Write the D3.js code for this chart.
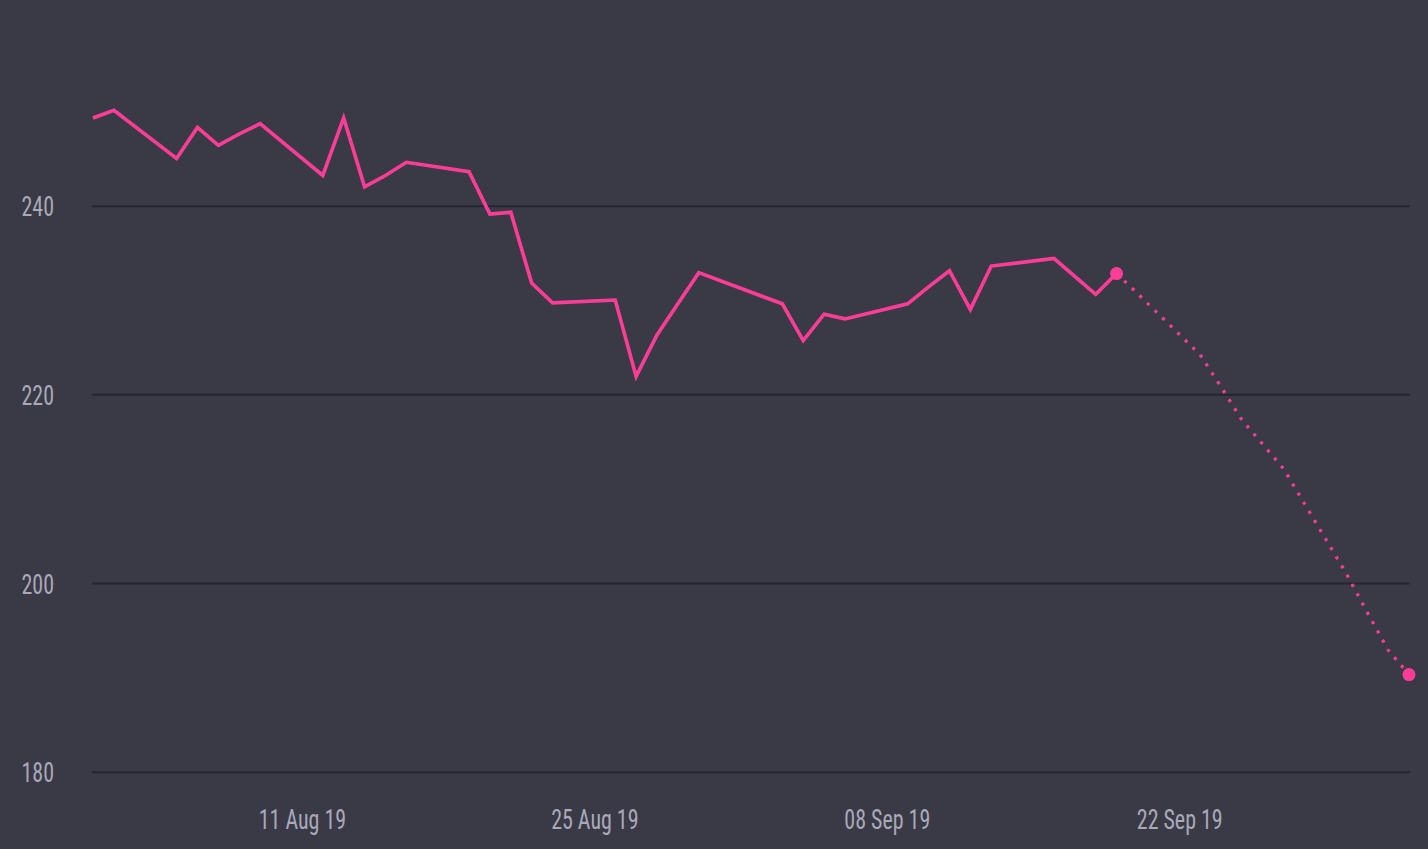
<!DOCTYPE html>
<html>
<head>
<meta charset="utf-8">
<script src="https://cdn.jsdelivr.net/npm/d3@7"></script>
<style>
  html, body { margin: 0; padding: 0; background: #3a3a47; overflow: hidden; }
  .tick-label { font-family: "Roboto Condensed", "Liberation Sans Narrow", Roboto, sans-serif; font-weight: 400; fill: #a9a9b9; font-size: 28.5px; }
</style>
</head>
<body>
<script>
// Kurswerte (Handelstage)
var dates = ["2019-08-01","2019-08-02","2019-08-05","2019-08-06","2019-08-07","2019-08-08","2019-08-09",
  "2019-08-12","2019-08-13","2019-08-14","2019-08-15","2019-08-16","2019-08-19","2019-08-20","2019-08-21",
  "2019-08-22","2019-08-23","2019-08-26","2019-08-27","2019-08-28","2019-08-29","2019-08-30","2019-09-03",
  "2019-09-04","2019-09-05","2019-09-06","2019-09-09","2019-09-10","2019-09-11","2019-09-12","2019-09-13",
  "2019-09-16","2019-09-17","2019-09-18","2019-09-19"];
var values = [249.3, 250.1, 245.0, 248.3, 246.4, 247.6, 248.7,
  243.2, 249.3, 242.0, 243.2, 244.6, 243.6, 239.1, 239.3,
  231.8, 229.7, 230.0, 221.9, 226.3, 229.6, 232.9, 229.6,
  225.7, 228.5, 228.0, 229.6, 231.4, 233.1, 229.0, 233.6,
  234.4, 232.5, 230.6, 232.8];

// Prognose (gepunktet)
var forecastDates = ["2019-09-19","2019-09-20","2019-09-23","2019-09-24","2019-09-25","2019-09-26",
  "2019-09-27","2019-09-30","2019-10-01","2019-10-02","2019-10-03"];
var forecastValues = [232.8, 230.7, 224.2, 220.8, 217.3, 214.7, 212.1, 201.0, 196.9, 192.9, 190.3];

var yTicks = [180, 200, 220, 240];
var xTicks = ["2019-08-11", "2019-08-25", "2019-09-08", "2019-09-22"];

var width = 1428, height = 849;
var margin = {top: 17, right: 19, bottom: 77, left: 93};
var squeeze = 0.77; // Schrift schmaler machen (keine Condensed-Schrift vorhanden)

var parse = d3.timeParse("%Y-%m-%d");
var data = dates.map(function (d, i) { return {date: parse(d), value: values[i]}; });
var forecast = forecastDates.map(function (d, i) { return {date: parse(d), value: forecastValues[i]}; });

var xScale = d3.scaleTime()
  .domain([parse("2019-08-01"), parse("2019-10-03")])
  .range([margin.left, width - margin.right]);

var yScale = d3.scaleLinear()
  .domain([180, 260])
  .range([height - margin.bottom - 0.3, margin.top]);

var svg = d3.select("body").append("svg")
  .attr("width", width)
  .attr("height", height);

svg.append("rect").attr("width", width).attr("height", height).attr("fill", "#3a3a47");

// Gitterlinien
var yAxis = svg.append("g")
  .attr("transform", "translate(" + (margin.left - 1) + ",0)")
  .call(d3.axisLeft(yScale).tickValues(yTicks).tickSize(-(width - margin.left - margin.right + 2)).tickPadding(38));
yAxis.select(".domain").remove();
yAxis.selectAll(".tick line").attr("stroke", "#26262e").attr("stroke-width", 2);
yAxis.selectAll(".tick text")
  .attr("class", "tick-label")
  .attr("dy", "0.36em")
  .attr("transform", "translate(-38,0) scale(" + squeeze + ",1) translate(38,0)");

// X Achse
var xAxis = svg.append("g")
  .attr("transform", "translate(0," + (height - margin.bottom) + ")")
  .call(d3.axisBottom(xScale).tickValues(xTicks.map(parse)).tickSize(0).tickPadding(37)
    .tickFormat(d3.timeFormat("%d %b %y")));
xAxis.select(".domain").remove();
xAxis.selectAll(".tick text")
  .attr("class", "tick-label")
  .attr("transform", "scale(" + squeeze + ",1)");

var line = d3.line()
  .x(function (d) { return xScale(d.date); })
  .y(function (d) { return yScale(d.value); });

svg.append("path")
  .datum(forecast)
  .attr("fill", "none")
  .attr("stroke", "#ff3d97")
  .attr("stroke-width", 3.2)
  .attr("stroke-dasharray", "3,7.6")
  .attr("d", line);

svg.append("path")
  .datum(data)
  .attr("fill", "none")
  .attr("stroke", "#ff3d97")
  .attr("stroke-width", 3.6)
  .attr("d", line);

// Endpunkte
svg.selectAll(".dot")
  .data([forecast[0], forecast[forecast.length - 1]])
  .enter().append("circle")
  .attr("class", "dot")
  .attr("cx", line.x())
  .attr("cy", line.y())
  .attr("r", 6.5)
  .attr("fill", "#ff3d97");
</script>
</body>
</html>
